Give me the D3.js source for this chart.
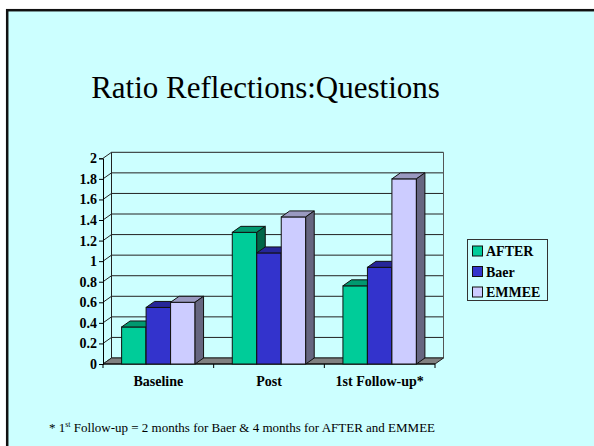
<!DOCTYPE html>
<html>
<head>
<meta charset="utf-8">
<script src="https://cdn.jsdelivr.net/npm/d3@7"></script>
<style>
  body { margin: 0; background: #fff; }
  svg { display: block; }
</style>
</head>
<body>
<script>
// data
const categories = ['Baseline', 'Post', '1st Follow-up*'];
const seriesNames = ['AFTER', 'Baer', 'EMMEE'];
const afterVals = [0.36, 1.28, 0.76];
const baerVals = [0.55, 1.08, 0.94];
const emmeeVals = [0.60, 1.43, 1.80];
const yTicks = [0, 0.2, 0.4, 0.6, 0.8, 1, 1.2, 1.4, 1.6, 1.8, 2];

const W = 594, H = 446;
const svg = d3.select('body').append('svg').attr('width', W).attr('height', H);

// slide background
svg.append('rect').attr('x', 7.2).attr('y', 10.2).attr('width', 620).attr('height', 460)
  .attr('fill', '#ccffff').attr('stroke', '#111').attr('stroke-width', 2.5);

// title
svg.append('text').text('Ratio Reflections:Questions')
  .attr('x', 265.5).attr('y', 98).attr('text-anchor', 'middle')
  .attr('font-family', '"Liberation Serif", "Times New Roman", serif')
  .attr('font-size', '31px').attr('fill', '#000');

// 3d depth
const dx = 8.5, dy = -6;

// scales (front plane)
const x = d3.scaleBand().domain(categories).range([103, 435]);
const xs = d3.scaleBand().domain(seriesNames).range([0, x.bandwidth()]).paddingOuter(0.76);
const y = d3.scaleLinear().domain([0, 2]).range([364, 158.3]);

const g = svg.append('g');
const x0 = x.range()[0], x1 = x.range()[1];

// back wall gridlines
yTicks.forEach(t => {
  g.append('line').attr('x1', x0 + dx).attr('x2', x1 + dx)
    .attr('y1', y(t) + dy).attr('y2', y(t) + dy)
    .attr('stroke', '#222').attr('stroke-width', 1);
  // side wall
  g.append('line').attr('x1', x0).attr('x2', x0 + dx)
    .attr('y1', y(t)).attr('y2', y(t) + dy)
    .attr('stroke', '#222').attr('stroke-width', 1);
});
// back wall edges
g.append('line').attr('x1', x0 + dx).attr('x2', x0 + dx).attr('y1', y(0) + dy).attr('y2', y(2) + dy)
  .attr('stroke', '#222');
g.append('line').attr('x1', x1 + dx).attr('x2', x1 + dx).attr('y1', y(0) + dy).attr('y2', y(2) + dy)
  .attr('stroke', '#555');

// floor
g.append('path')
  .attr('d', `M${x0},${y(0)} L${x1},${y(0)} L${x1 + dx},${y(0) + dy} L${x0 + dx},${y(0) + dy} Z`)
  .attr('fill', '#808080').attr('stroke', '#222').attr('stroke-width', 1);

// y axis
const yAxis = d3.axisLeft(y).tickValues(yTicks).tickSize(4).tickPadding(2).tickFormat(d3.format('~g'));
const yAxisG = g.append('g').attr('transform', `translate(${x0},0)`).call(yAxis);
yAxisG.select('.domain').attr('stroke', '#000');
yAxisG.selectAll('.tick line').attr('stroke', '#000');
yAxisG.selectAll('text').attr('font-family', '"Liberation Serif", "Times New Roman", serif')
  .attr('font-weight', 'bold').attr('font-size', '14px').attr('fill', '#000');

// x axis
const xAxis = d3.axisBottom(x).tickSize(0).tickPadding(12);
const xAxisG = g.append('g').attr('transform', `translate(0,${y(0)})`).call(xAxis);
xAxisG.select('.domain').remove();
xAxisG.selectAll('text').attr('font-family', '"Liberation Serif", "Times New Roman", serif')
  .attr('font-weight', 'bold').attr('font-size', '14px').attr('fill', '#000');
g.append('line').attr('x1', x0).attr('x2', x1).attr('y1', y(0)).attr('y2', y(0)).attr('stroke', '#000');
categories.concat(['end']).forEach((c, i) => {
  const xx = i < categories.length ? x(c) : x1;
  g.append('line').attr('x1', xx).attr('x2', xx).attr('y1', y(0)).attr('y2', y(0) + 4).attr('stroke', '#000');
});

// bars
const colors = {
  AFTER: { front: '#00cc99', top: '#009970', side: '#006648' },
  Baer: { front: '#3333cc', top: '#262699', side: '#1a1a66' },
  EMMEE: { front: '#ccccff', top: '#9999c0', side: '#666680' }
};
const valuesBy = { AFTER: afterVals, Baer: baerVals, EMMEE: emmeeVals };

const barsG = g.append('g');
categories.forEach((c, ci) => {
  seriesNames.forEach(s => {
    const v = valuesBy[s][ci];
    const bx = x(c) + xs(s), bw = xs.bandwidth();
    const top = y(v), bot = y(0);
    const col = colors[s];
    barsG.append('rect').attr('x', bx).attr('y', top).attr('width', bw).attr('height', bot - top)
      .attr('fill', col.front).attr('stroke', '#111').attr('stroke-width', 1);
    barsG.append('path')
      .attr('d', `M${bx},${top} L${bx + dx},${top + dy} L${bx + bw + dx},${top + dy} L${bx + bw},${top} Z`)
      .attr('fill', col.top).attr('stroke', '#111').attr('stroke-width', 1);
    barsG.append('path')
      .attr('d', `M${bx + bw},${top} L${bx + bw + dx},${top + dy} L${bx + bw + dx},${bot + dy} L${bx + bw},${bot} Z`)
      .attr('fill', col.side).attr('stroke', '#111').attr('stroke-width', 1);
  });
});

// legend
const lg = svg.append('g').attr('transform', 'translate(467.5,239.5)');
lg.append('rect').attr('width', 80).attr('height', 61).attr('fill', '#ccffff')
  .attr('stroke', '#333').attr('stroke-width', 1);
seriesNames.forEach((s, i) => {
  const cy = 11.5 + i * 20.5;
  lg.append('rect').attr('x', 5).attr('y', cy - 5).attr('width', 10).attr('height', 10)
    .attr('fill', colors[s].front).attr('stroke', '#111').attr('stroke-width', 1);
  lg.append('text').text(s).attr('x', 18.5).attr('y', cy + 5)
    .attr('font-family', '"Liberation Serif", "Times New Roman", serif')
    .attr('font-weight', 'bold').attr('font-size', '14px').attr('fill', '#000');
});

// footnote
const fn = svg.append('text').attr('x', 49).attr('y', 432)
  .attr('font-family', '"Liberation Serif", "Times New Roman", serif')
  .attr('font-size', '13px').attr('fill', '#000');
fn.append('tspan').text('* 1');
fn.append('tspan').text('st').attr('font-size', '8px').attr('dy', -5);
fn.append('tspan').text(' Follow-up = 2 months for Baer & 4 months for AFTER and EMMEE').attr('dy', 5);
</script>
</body>
</html>
